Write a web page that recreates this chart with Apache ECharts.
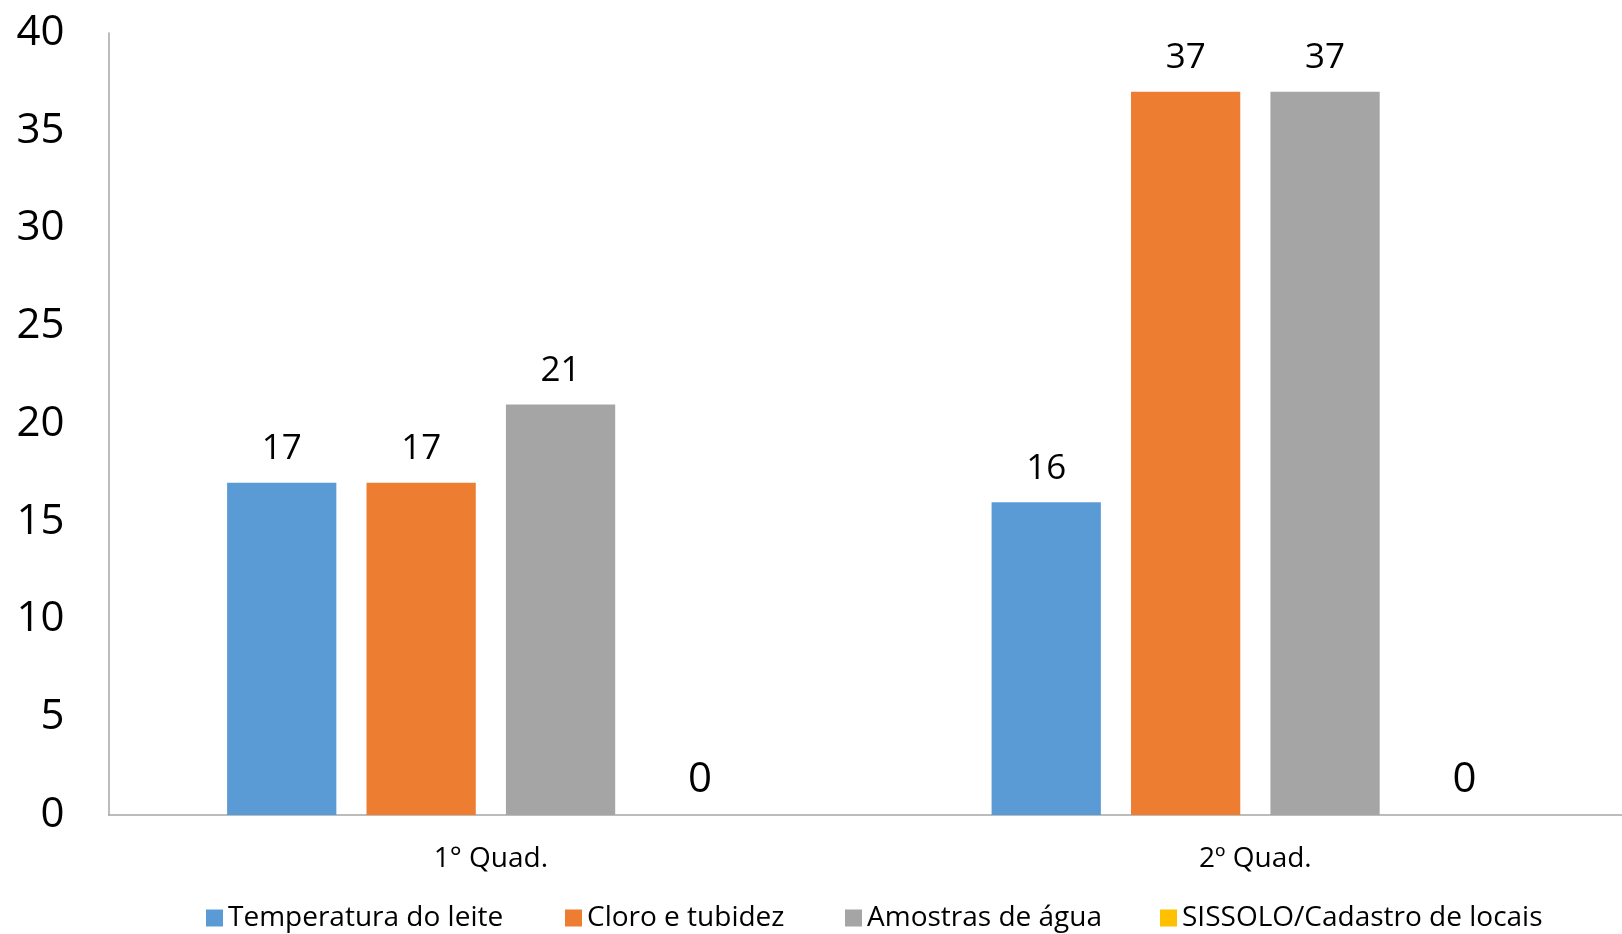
<!DOCTYPE html>
<html>
<head>
<meta charset="utf-8">
<script src="https://cdn.jsdelivr.net/npm/echarts@6/dist/echarts.min.js"></script>
<style>
html,body{margin:0;padding:0;background:#fff;}
#c{width:1622px;height:934px;}
</style>
</head>
<body>
<div id="c"></div>
<script>
const categories = ['1° Quad.', '2º Quad.'];
const seriesNames = ['Temperatura do leite', 'Cloro e tubidez', 'Amostras de água', 'SISSOLO/Cadastro de locais'];
const temperatura = [17, 16];
const cloro = [17, 37];
const amostras = [21, 37];
const sissolo = [0, 0];
const yTicks = [0, 5, 10, 15, 20, 25, 30, 35, 40];

const colors = ['#5B9BD5', '#ED7D31', '#A5A5A5', '#FFC000'];
const values = [temperatura, cloro, amostras, sissolo];
const FONT = "'Open Sans', sans-serif";

const chart = echarts.init(document.getElementById('c'), null, {renderer: 'canvas'});

const legendLefts = [201, 560, 840, 1155];
const legends = seriesNames.map((n, i) => ({
  left: legendLefts[i],
  top: 899,
  itemWidth: 17,
  itemHeight: 17,
  itemGap: 0,
  icon: 'rect',
  data: [n],
  textStyle: {fontFamily: FONT, fontSize: 28, color: '#000', padding: [0, 0, 0, 0]}
}));

chart.setOption({
  animation: false,
  color: colors,
  legend: legends,
  grid: {left: 108.6, width: 1529, top: 33, bottom: 119, containLabel: false, outerBoundsMode: 'none'},
  xAxis: {
    type: 'category',
    data: categories,
    axisLine: {lineStyle: {color: '#A6A6A6', width: 1.5}},
    axisTick: {show: false},
    axisLabel: {fontFamily: FONT, fontSize: 28, color: '#000', margin: 30}
  },
  yAxis: {
    type: 'value',
    min: yTicks[0],
    max: yTicks[yTicks.length - 1],
    interval: 5,
    splitLine: {show: false},
    axisLine: {show: true, lineStyle: {color: '#A6A6A6', width: 1.5}},
    axisTick: {show: false},
    axisLabel: {fontFamily: FONT, fontSize: 42, color: '#000', margin: 44}
  },
  series: seriesNames.map((n, i) => ({
    name: n,
    type: 'bar',
    data: values[i],
    barGap: '27.6%',
    barCategoryGap: '31%',
    label: {
      show: true,
      position: 'top',
      distance: i === 3 ? 14 : 16,
      fontFamily: FONT,
      fontSize: i === 3 ? 42 : 35,
      color: '#000'
    }
  }))
});
</script>
</body>
</html>
